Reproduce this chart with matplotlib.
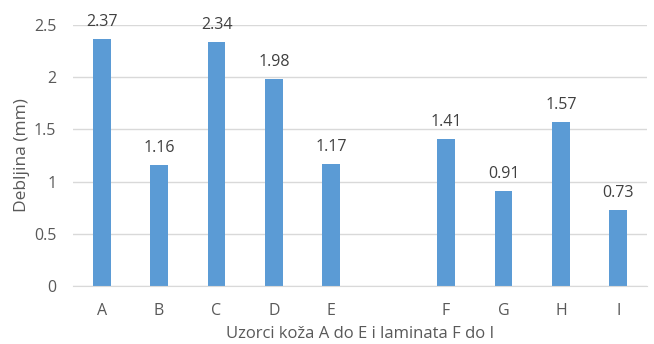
import matplotlib.pyplot as plt
import numpy as np

plt.rcParams['font.family'] = ['Open Sans', 'DejaVu Sans']

categories = ['A', 'B', 'C', 'D', 'E', '', 'F', 'G', 'H', 'I']
values = [2.37, 1.16, 2.34, 1.98, 1.17, None, 1.41, 0.91, 1.57, 0.73]
yticks = [0, 0.5, 1, 1.5, 2, 2.5]
ytick_labels = ['0', '0.5', '1', '1.5', '2', '2.5']

fig = plt.figure(figsize=(6.54, 3.44), dpi=100)
ax = fig.add_axes([73 / 654, 1 - 286 / 344, 574 / 654, 261 / 344])

x = np.arange(len(categories))
for xi, v in zip(x, values):
    if v is None:
        continue
    ax.bar(xi, v, width=0.31, color='#5B9BD5', zorder=3)
    ax.text(xi, v + 0.125, f'{v:.2f}', ha='center', va='baseline',
            fontsize=11.5, color='#404040')

ax.set_xlim(-0.5, len(categories) - 0.5)
ax.set_ylim(0, 2.5)
ax.set_xticks(x)
ax.set_xticklabels(categories)
ax.set_yticks(yticks)
ax.set_yticklabels(ytick_labels)
ax.tick_params(length=0, labelsize=11.5, colors='#595959')
ax.tick_params(axis='x', pad=12)
ax.tick_params(axis='y', pad=12)
ax.yaxis.grid(True, color='#D9D9D9', linewidth=1, zorder=0)
for s in ['top', 'right', 'left']:
    ax.spines[s].set_visible(False)
ax.spines['bottom'].set_color('#D9D9D9')
ax.spines['bottom'].set_zorder(4)

ax.set_xlabel('Uzorci koža A do E i laminata F do I', fontsize=12, color='#595959', labelpad=5)
ax.set_ylabel('Debljina (mm)', fontsize=12.5, color='#595959', labelpad=3)

fig.savefig('out.png', dpi=100)
